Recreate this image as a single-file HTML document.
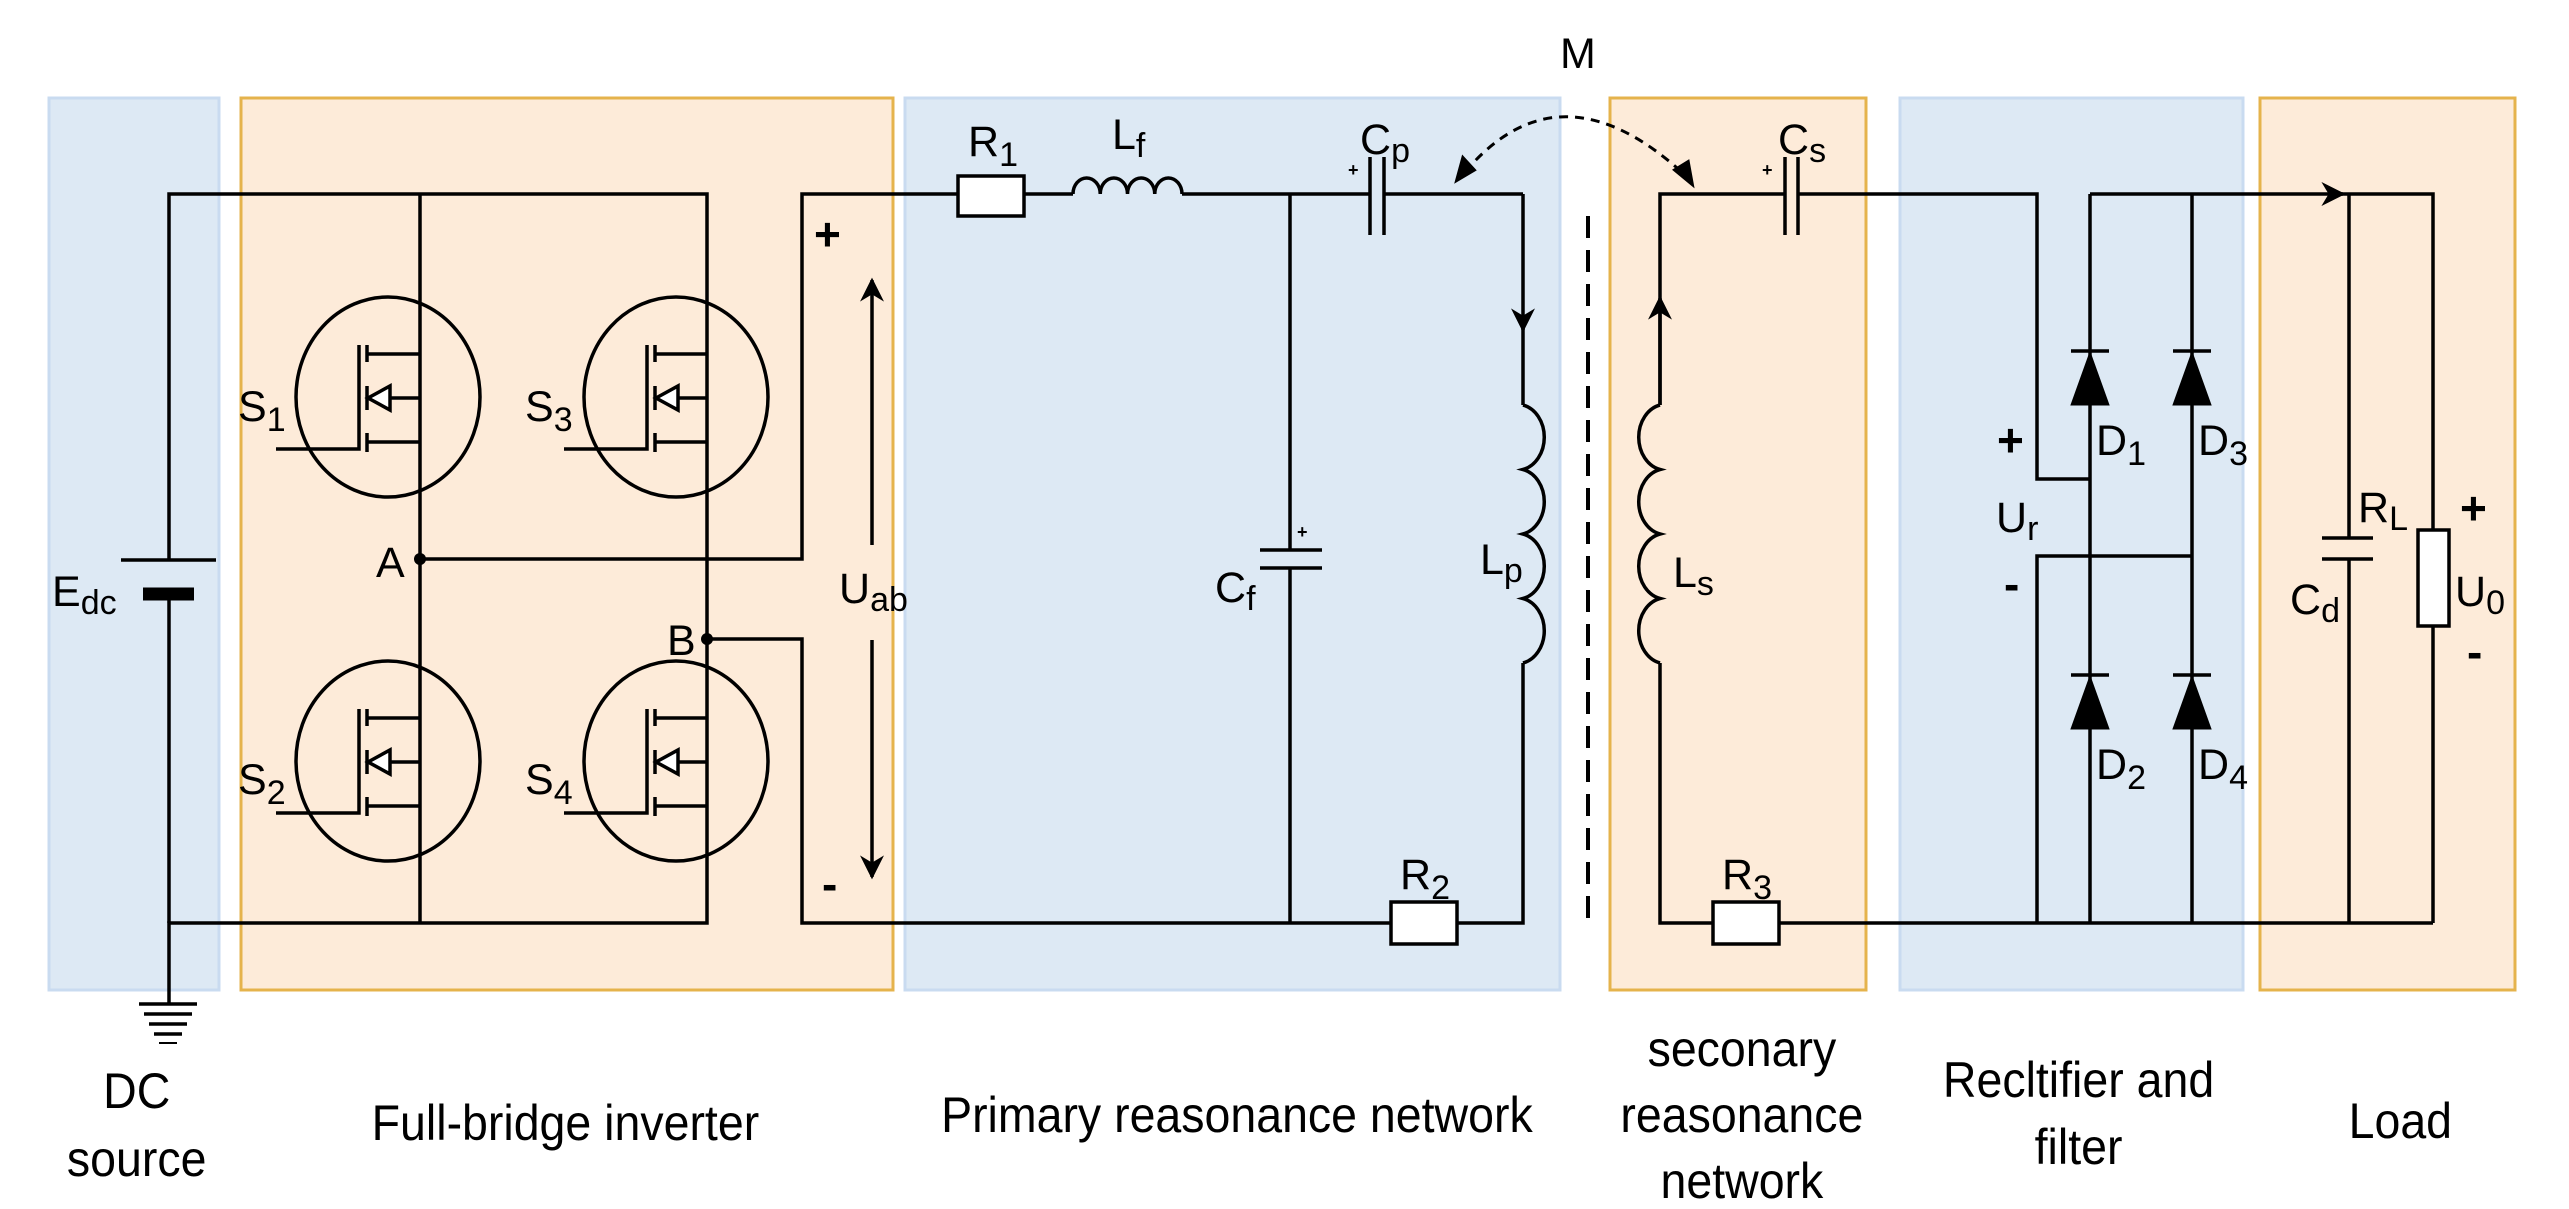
<!DOCTYPE html>
<html><head><meta charset="utf-8"><style>
html,body{margin:0;padding:0;background:#fff}
svg{display:block}
text{font-family:"Liberation Sans",sans-serif;fill:#000}
.l{font-size:43px}
.t{font-size:50px}
.p{font-size:46px;font-weight:bold}
</style></head><body>
<svg width="2569" height="1209" viewBox="0 0 2569 1209" xmlns="http://www.w3.org/2000/svg">
<defs>
<marker id="ah" viewBox="0 0 10 10" refX="9" refY="5" markerWidth="24" markerHeight="24" markerUnits="userSpaceOnUse" orient="auto"><path d="M0,0 L10,5 L0,10 L3,5 z" fill="#000"/></marker>
</defs>
<g stroke-width="3">
<rect x="49" y="98" width="170" height="892" fill="#dde9f4" stroke="#c9dbf0"/>
<rect x="241" y="98" width="652" height="892" fill="#fdebd9" stroke="#e5b34c"/>
<rect x="905" y="98" width="655" height="892" fill="#dde9f4" stroke="#c9dbf0"/>
<rect x="1610" y="98" width="256" height="892" fill="#fdebd9" stroke="#e5b34c"/>
<rect x="1900" y="98" width="343" height="892" fill="#dde9f4" stroke="#c9dbf0"/>
<rect x="2260" y="98" width="255" height="892" fill="#fdebd9" stroke="#e5b34c"/>
</g>
<g stroke="#000" stroke-width="3.5" fill="none">
<polyline points="169,560 169,194 707,194 707,923 169,923 169,1004"/>
<line x1="169" y1="594" x2="169" y2="923"/>
<line x1="121" y1="560" x2="216" y2="560"/>
<line x1="143" y1="594" x2="194" y2="594" stroke-width="13"/>
<line x1="139" y1="1004" x2="197" y2="1004"/>
<line x1="144" y1="1014" x2="192" y2="1014"/>
<line x1="149" y1="1024" x2="187" y2="1024"/>
<line x1="154" y1="1034" x2="182" y2="1034"/>
<line x1="159" y1="1043" x2="177" y2="1043" stroke-width="2"/>
<line x1="420" y1="194" x2="420" y2="923"/>
<polyline points="420,559 802,559 802,194 958,194"/>
<polyline points="707,639 802,639 802,923 1391,923"/>
<g id="m1">
<ellipse cx="388" cy="397" rx="92" ry="100"/>
<polyline points="276,449 359,449 359,345"/>
<line x1="367" y1="345" x2="367" y2="362"/>
<line x1="367" y1="386" x2="367" y2="410"/>
<line x1="367" y1="433" x2="367" y2="452"/>
<line x1="367" y1="354" x2="420" y2="354"/>
<line x1="367" y1="442" x2="420" y2="442"/>
<polyline points="420,398 390,398"/>
<polygon points="368,398 390,386 390,410" fill="#fff"/>
</g>
<use href="#m1" x="288" y="0"/>
<use href="#m1" x="0" y="364"/>
<use href="#m1" x="288" y="364"/>
<line x1="872" y1="545" x2="872" y2="280" marker-end="url(#ah)"/>
<line x1="872" y1="640" x2="872" y2="877" marker-end="url(#ah)"/>
<rect x="958" y="176" width="66" height="40" fill="#fff"/>
<line x1="1024" y1="194" x2="1073" y2="194"/>
<path d="M1073,194 a13.6 16 0 0 1 27.25 0 a13.6 16 0 0 1 27.25 0 a13.6 16 0 0 1 27.25 0 a13.6 16 0 0 1 27.25 0"/>
<line x1="1182" y1="194" x2="1370" y2="194"/>
<line x1="1370" y1="157" x2="1370" y2="235"/>
<line x1="1384" y1="157" x2="1384" y2="235"/>
<line x1="1384" y1="194" x2="1523" y2="194"/>
<line x1="1523" y1="194" x2="1523" y2="330" marker-end="url(#ah)"/>
<line x1="1523" y1="320" x2="1523" y2="405"/>
<path d="M1523,405 a27 33 0 0 1 0 64.5 a27 33 0 0 1 0 64.5 a27 33 0 0 1 0 64.5 a27 33 0 0 1 0 64.5"/>
<polyline points="1523,663 1523,923 1457,923"/>
<rect x="1391" y="902" width="66" height="42" fill="#fff"/>
<polyline points="1290,194 1290,550"/>
<line x1="1290" y1="568" x2="1290" y2="923"/>
<line x1="1260" y1="550" x2="1322" y2="550"/>
<line x1="1260" y1="568" x2="1322" y2="568"/>
<line x1="1588" y1="216" x2="1588" y2="921" stroke-dasharray="22,12" stroke-width="4"/>
<path d="M1465,172 Q1560,60 1685,175" stroke-dasharray="9,7" stroke-width="3"/>
<polygon points="1457,180 1463,158 1474,170" fill="#000"/>
<polygon points="1692,184 1675,170 1688,162" fill="#000"/>
<polyline points="1660,405 1660,194 1785,194"/>
<line x1="1660" y1="405" x2="1660" y2="298" marker-end="url(#ah)"/>
<path d="M1660,405 a27 33 0 0 0 0 64.5 a27 33 0 0 0 0 64.5 a27 33 0 0 0 0 64.5 a27 33 0 0 0 0 64.5"/>
<polyline points="1660,663 1660,923 1713,923"/>
<rect x="1713" y="902" width="66" height="42" fill="#fff"/>
<line x1="1779" y1="923" x2="2433" y2="923"/>
<line x1="1785" y1="157" x2="1785" y2="235"/>
<line x1="1798" y1="157" x2="1798" y2="235"/>
<polyline points="1798,194 2037,194 2037,479 2090,479"/>
<polyline points="2037,923 2037,556 2192,556"/>
<line x1="2090" y1="194" x2="2090" y2="923"/>
<line x1="2192" y1="194" x2="2192" y2="923"/>
<line x1="2090" y1="194" x2="2343" y2="194" marker-end="url(#ah)"/>
<polyline points="2330,194 2433,194 2433,530"/>
<line x1="2433" y1="626" x2="2433" y2="923"/>
<rect x="2418" y="530" width="31" height="96" fill="#fff"/>
<line x1="2349" y1="194" x2="2349" y2="538"/>
<line x1="2349" y1="559" x2="2349" y2="923"/>
<line x1="2322" y1="538" x2="2373" y2="538"/>
<line x1="2322" y1="559" x2="2373" y2="559"/>
<g id="d1"><line x1="2071" y1="351" x2="2109" y2="351"/><polygon points="2090,352 2071,405 2109,405" fill="#000" stroke-width="1"/></g>
<use href="#d1" x="102" y="0"/>
<use href="#d1" x="0" y="324"/>
<use href="#d1" x="102" y="324"/>
</g>
<circle cx="420" cy="559" r="6"/>
<circle cx="707" cy="639" r="6"/>
<g class="l">
<text x="52" y="606">E<tspan font-size="34" dy="8">dc</tspan></text>
<text x="238" y="421">S<tspan font-size="34" dy="10">1</tspan></text>
<text x="525" y="421">S<tspan font-size="34" dy="10">3</tspan></text>
<text x="238" y="794">S<tspan font-size="34" dy="10">2</tspan></text>
<text x="525" y="794">S<tspan font-size="34" dy="10">4</tspan></text>
<text x="376" y="577">A</text>
<text x="667" y="655">B</text>
<text x="839" y="603">U<tspan font-size="34" dy="8">ab</tspan></text>
<text x="968" y="156">R<tspan font-size="34" dy="10">1</tspan></text>
<text x="1112" y="149">L<tspan font-size="34" dy="8">f</tspan></text>
<text x="1360" y="154">C<tspan font-size="34" dy="8">p</tspan></text>
<text x="1778" y="154">C<tspan font-size="34" dy="8">s</tspan></text>
<text x="1215" y="602">C<tspan font-size="34" dy="8">f</tspan></text>
<text x="1480" y="574">L<tspan font-size="34" dy="8">p</tspan></text>
<text x="1673" y="587">L<tspan font-size="34" dy="8">s</tspan></text>
<text x="1400" y="889">R<tspan font-size="34" dy="10">2</tspan></text>
<text x="1722" y="889">R<tspan font-size="34" dy="10">3</tspan></text>
<text x="1560" y="68">M</text>
<text x="2096" y="455">D<tspan font-size="34" dy="10">1</tspan></text>
<text x="2198" y="455">D<tspan font-size="34" dy="10">3</tspan></text>
<text x="2096" y="779">D<tspan font-size="34" dy="10">2</tspan></text>
<text x="2198" y="779">D<tspan font-size="34" dy="10">4</tspan></text>
<text x="1996" y="532">U<tspan font-size="34" dy="8">r</tspan></text>
<text x="2358" y="522">R<tspan font-size="34" dy="8">L</tspan></text>
<text x="2290" y="614">C<tspan font-size="34" dy="8">d</tspan></text>
<text x="2455" y="606">U<tspan font-size="34" dy="8">0</tspan></text>
</g>
<g font-size="18" font-weight="bold"><text x="1348" y="176">+</text><text x="1762" y="176">+</text><text x="1297" y="538">+</text></g>
<g class="p">
<text x="814" y="250">+</text><text x="822" y="900">-</text>
<text x="1997" y="456">+</text><text x="2004" y="600">-</text>
<text x="2460" y="524">+</text><text x="2467" y="668">-</text>
</g>
<g class="t" text-anchor="middle" transform="scale(0.93,1)">
<text x="147" y="1108">DC</text>
<text x="147" y="1176">source</text>
<text x="608" y="1140">Full-bridge inverter</text>
<text x="1330" y="1132">Primary reasonance network</text>
<text x="1873" y="1066">seconary</text>
<text x="1873" y="1132">reasonance</text>
<text x="1873" y="1198">network</text>
<text x="2235" y="1097">Recltifier and</text>
<text x="2235" y="1164">filter</text>
<text x="2581" y="1138">Load</text>
</g>
</svg>
</body></html>
